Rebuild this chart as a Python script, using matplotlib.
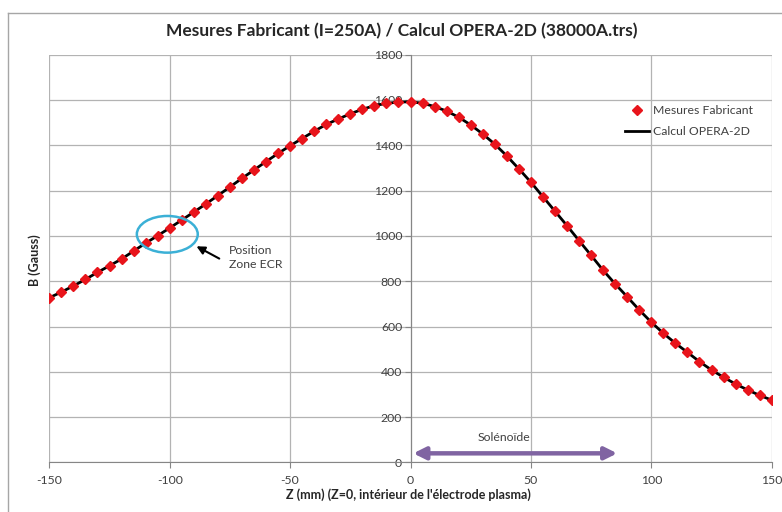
import matplotlib
matplotlib.use("Agg")
import matplotlib.pyplot as plt
from matplotlib.lines import Line2D
from matplotlib.patches import Ellipse, FancyArrowPatch

plt.rcParams['font.family'] = ['Lato', 'DejaVu Sans']
plt.rcParams['axes.unicode_minus'] = False

# ---- data ----
z_mm = [-150, -145, -140, -135, -130, -125, -120, -115, -110, -105,
        -100, -95, -90, -85, -80, -75, -70, -65, -60, -55,
        -50, -45, -40, -35, -30, -25, -20, -15, -10, -5,
        0, 5, 10, 15, 20, 25, 30, 35, 40, 45,
        50, 55, 60, 65, 70, 75, 80, 85, 90, 95,
        100, 105, 110, 115, 120, 125, 130, 135, 140, 145, 150]
mesures_B = [727, 752, 779, 808, 839, 868, 898, 933, 968, 1001,
             1035, 1070, 1105, 1141, 1178, 1216, 1254, 1291, 1328, 1364,
             1398, 1430, 1462, 1492, 1516, 1539, 1559, 1575, 1585, 1591,
             1592, 1586, 1571, 1551, 1524, 1490, 1450, 1405, 1353, 1296,
             1237, 1173, 1109, 1045, 979, 914, 848, 788, 731, 673,
             619, 570, 526, 486, 445, 408, 376, 346, 320, 296, 275]
calc_z = z_mm
calc_B = mesures_B

x_ticks = [-150, -100, -50, 0, 50, 100, 150]
y_ticks = [0, 200, 400, 600, 800, 1000, 1200, 1400, 1600, 1800]

title = "Mesures Fabricant (I=250A) / Calcul OPERA-2D (38000A.trs)"
xlabel = "Z (mm) (Z=0, intérieur de l'électrode plasma)"
ylabel = "B (Gauss)"

W, H = 782, 512
fig = plt.figure(figsize=(W / 100, H / 100), dpi=100)
ax = fig.add_axes([49.3 / W, 1 - 462.4 / H, (771.7 - 49.3) / W, (462.4 - 54.7) / H])

grid_c = '#B3B3B3'
axis_c = '#868686'
txt_c = '#404040'

ax.set_xlim(-150, 150)
ax.set_ylim(0, 1800)
ax.set_xticks(x_ticks)
ax.set_yticks(y_ticks)
ax.grid(True, color=grid_c, linewidth=0.9)
ax.set_axisbelow(True)
for s in ['top', 'right']:
    ax.spines[s].set_visible(False)
ax.spines['left'].set_position(('data', 0))
ax.spines['bottom'].set_position(('data', 0))
ax.spines['left'].set_color(axis_c)
ax.spines['bottom'].set_color(axis_c)
ax.tick_params(axis='both', colors=axis_c, labelcolor=txt_c, labelsize=8.8,
               length=4, width=0.8, direction='out')
ax.tick_params(axis='y', pad=2)
ax.tick_params(axis='x', pad=5)

ax.plot(calc_z, calc_B, color='black', linewidth=2.0, zorder=3, label='Calcul OPERA-2D')
ax.plot(z_mm, mesures_B, linestyle='none', marker='D', markersize=5.6,
        markerfacecolor='#E8141B', markeredgecolor='#E8141B', zorder=4,
        label='Mesures Fabricant')

# ECR zone annotation
ell = Ellipse((-101, 1007), width=25.3, height=162, fill=False,
              edgecolor='#3BB0D6', linewidth=1.8, zorder=5)
ax.add_patch(ell)
ax.annotate('', xy=(-89.9, 960), xytext=(-78.4, 894),
            arrowprops=dict(arrowstyle='-|>', color='black', lw=1.5,
                            mutation_scale=12), zorder=6)
ax.text(-75.5, 905, 'Position\nZone ECR', ha='left', va='center', fontsize=8.8,
        color=txt_c, linespacing=1.25)

# Solenoid arrow
sol = FancyArrowPatch((0, 40), (87, 40), arrowstyle='<|-|>', mutation_scale=18,
                      color='#8064A2', linewidth=3.2, zorder=6)
ax.add_patch(sol)
ax.text(39, 108, 'Solénoïde', ha='center', va='center', fontsize=8.8, color=txt_c)

# legend
h1 = Line2D([], [], linestyle='none', marker='D', markersize=5,
            markerfacecolor='#E8141B', markeredgecolor='#E8141B')
h2 = Line2D([], [], color='black', linewidth=2)
fig.legend([h1, h2], ['Mesures Fabricant', 'Calcul OPERA-2D'],
           loc='upper left', bbox_to_anchor=(620 / W, 1 - 100 / H),
           frameon=False, fontsize=8.8, handlelength=2.0, handletextpad=0.3,
           labelspacing=0.85, borderaxespad=0, labelcolor=txt_c)

fig.text(401.5 / W, 1 - 31 / H, title, ha='center', va='center', fontsize=12.5,
         fontweight='bold', color='#262626')
fig.text(408 / W, 1 - 495 / H, xlabel, ha='center', va='center', fontsize=9,
         fontweight='bold', color='#262626')
fig.text(35 / W, 1 - 260 / H, ylabel, ha='center', va='center', fontsize=9,
         fontweight='bold', color='#262626', rotation=90)

# outer chart frame
fig.add_artist(Line2D([8 / W, 8 / W], [0, 1 - 13 / H], transform=fig.transFigure,
                      color='#A6A6A6', linewidth=1))
fig.add_artist(Line2D([8 / W, 1], [1 - 13 / H, 1 - 13 / H], transform=fig.transFigure,
                      color='#A6A6A6', linewidth=1))

fig.savefig('out.png', dpi=100)
